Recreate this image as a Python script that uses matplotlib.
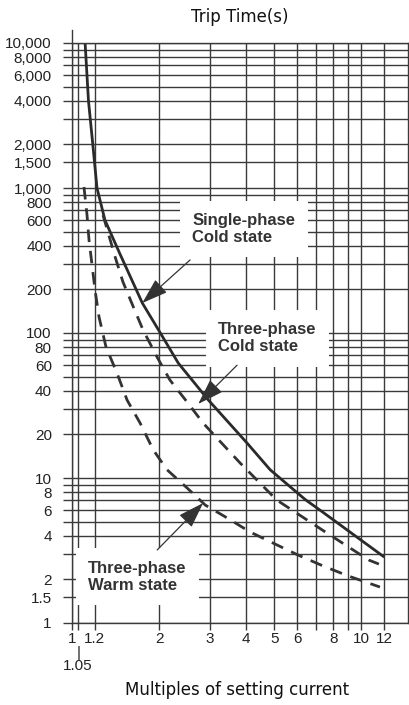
import matplotlib
matplotlib.use('Agg')
import matplotlib.pyplot as plt
from matplotlib.ticker import FixedLocator, FixedFormatter, NullLocator

# curves (multiple of setting current, trip time in s)
single_cold_x = [1.11, 1.14, 1.18, 1.22, 1.30, 1.46, 1.75, 2.02, 2.33, 2.96, 4.03, 4.84, 6.4, 7.2, 12.0]
single_cold_t = [10000, 4000, 2000, 1000, 600, 356, 161, 100, 62, 34.5, 17.4, 11.4, 7.1, 6.0, 2.85]

three_cold_x = [1.28, 1.41, 1.50, 1.63, 1.76, 1.97, 2.18, 2.50, 2.84, 3.81, 5.1, 7.33, 10.6, 11.5]
three_cold_t = [650, 334, 225, 151, 105, 68, 47.4, 33.4, 23.9, 12.7, 7.05, 4.38, 2.72, 2.55]

three_warm_x = [1.10, 1.127, 1.145, 1.173, 1.201, 1.24, 1.311, 1.43, 1.55, 1.72, 1.91, 2.13, 2.50,
                2.89, 3.44, 4.13, 5.04, 6.05, 7.39, 9.02, 11.6]
three_warm_t = [1016, 651, 438, 294, 198, 129, 80, 53, 34.5, 23.9, 15.6, 11.4, 8.53,
                6.5, 5.3, 4.24, 3.5, 2.94, 2.47, 2.11, 1.77]

x_ticks = [1, 1.05, 1.2, 2, 3, 4, 5, 6, 7, 8, 9, 10, 12]
x_labels = ['1', '|\n1.05', '1.2', '2', '3', '4', '5', '6', '', '8', '', '10', '12']

y_ticks = [1, 1.5, 2, 3, 4, 5, 6, 7, 8, 9,
           10, 20, 30, 40, 50, 60, 70, 80, 90,
           100, 200, 300, 400, 500, 600, 700, 800, 900,
           1000, 1500, 2000, 3000, 4000, 5000, 6000, 7000, 8000, 9000, 10000]
y_labeled = {1: '1', 1.5: '1.5', 2: '2', 4: '4', 6: '6', 8: '8', 10: '10', 20: '20', 40: '40',
             60: '60', 80: '80', 100: '100', 200: '200', 400: '400', 600: '600', 800: '800',
             1000: '1,000', 1500: '1,500', 2000: '2,000', 4000: '4,000', 6000: '6,000',
             8000: '8,000', 10000: '10,000'}
y_labels = [y_labeled.get(v, '') for v in y_ticks]

# annotations: text, text anchor, arrow tail, arrow tip
notes = [
    ('Single-phase\nCold state', (2.60, 521), (2.56, 319), (1.75, 161)),
    ('Three-phase\nCold state', (3.20, 92), (3.72, 60), (2.73, 32.4)),
    ('Three-phase\nWarm state', (1.136, 2.08), (1.97, 3.19), (2.84, 6.72)),
]

ink = '#333333'
grid_c = '#3a3a3a'

fig = plt.figure(figsize=(4.1, 7.05), dpi=100)
ax = fig.add_axes([72 / 410, 82 / 705, 336 / 410, 580 / 705])
ax.set_xscale('log')
ax.set_yscale('log')
ax.set_xlim(1, 14.5)
ax.set_ylim(1, 10000)

ax.xaxis.set_major_locator(FixedLocator(x_ticks))
ax.xaxis.set_major_formatter(FixedFormatter(x_labels))
ax.xaxis.set_minor_locator(NullLocator())
ax.yaxis.set_major_locator(FixedLocator(y_ticks))
ax.yaxis.set_major_formatter(FixedFormatter(y_labels))
ax.yaxis.set_minor_locator(NullLocator())

ax.grid(True, which='major', color=grid_c, lw=1.0)
ax.tick_params(axis='y', length=6.5, width=1.0, color=grid_c, pad=8,
               labelsize=11, labelcolor='#222222')
ax.tick_params(axis='x', length=5, width=1.0, color=grid_c, pad=1.5,
               labelsize=11, labelcolor='#222222')
# the 1.05 mark sits lower, under its own bar
ax.xaxis.get_major_ticks()[1].set_pad(11.5)
for lab in ax.get_xticklabels() + ax.get_yticklabels():
    lab.set_fontfamily('Liberation Sans')
for lab in ax.get_xticklabels():
    lab.set_linespacing(0.9)

for side in ['left', 'right', 'top', 'bottom']:
    ax.spines[side].set_color(grid_c)
    ax.spines[side].set_linewidth(1.0)
ax.spines['left'].set_bounds(1, 12300)

ax.plot(single_cold_x, single_cold_t, color='#2a2a2a', lw=2.0, solid_capstyle='butt', zorder=2)
ax.plot(three_cold_x, three_cold_t, color='#333333', lw=2.0, dashes=(4.5, 3.2), zorder=2)
ax.plot(three_warm_x, three_warm_t, color='#333333', lw=2.0, dashes=(4.5, 3.2), zorder=2)

for txt, pos, tail, tip in notes:
    ax.text(pos[0], pos[1], txt, ha='left', va='center', fontsize=12, fontweight='bold',
            family='Liberation Sans', color=ink, linespacing=1.15, zorder=3,
            bbox=dict(facecolor='white', edgecolor='none', pad=9))
    ax.annotate('', xy=tip, xytext=tail, zorder=4,
                arrowprops=dict(arrowstyle='-|>,head_length=0.9,head_width=0.3',
                                color=ink, lw=0.9, mutation_scale=18,
                                shrinkA=0, shrinkB=0))

ax.set_title('Trip Time(s)', fontsize=12, pad=15, color='#111111')
ax.set_xlabel('Multiples of setting current', fontsize=12, color='#111111')
ax.xaxis.set_label_coords(0.49, -0.1)

fig.savefig('out.png', dpi=100)
